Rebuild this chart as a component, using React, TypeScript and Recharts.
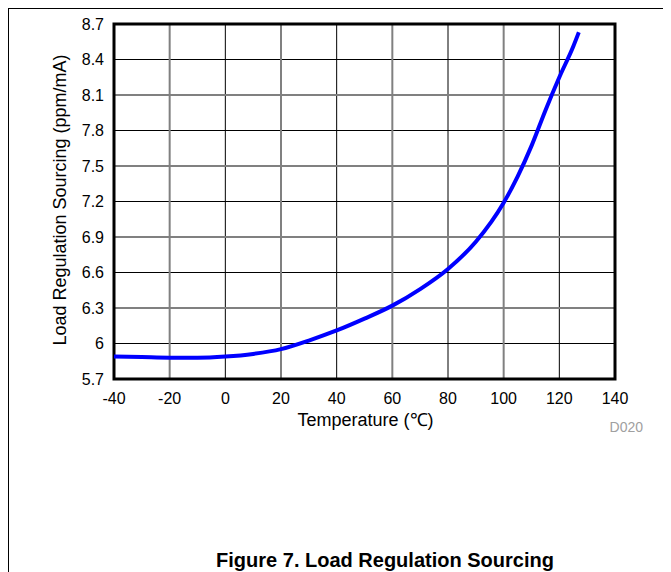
import * as React from "react";
import {
  LineChart,
  Line,
  XAxis,
  YAxis,
  CartesianGrid,
  ReferenceArea,
  Label,
} from "recharts";

const temperature = [-40, -30, -20, -10, 0, 10, 20, 30, 40, 50, 60, 70, 80, 90, 100, 105, 110, 115, 120, 125, 127];
const sourcing = [5.89, 5.885, 5.88, 5.88, 5.89, 5.912, 5.952, 6.025, 6.11, 6.21, 6.32, 6.46, 6.63, 6.86, 7.19, 7.41, 7.67, 7.97, 8.25, 8.51, 8.63];

const xTicks = [-40, -20, 0, 20, 40, 60, 80, 100, 120, 140];
const yTicks = [5.7, 6, 6.3, 6.6, 6.9, 7.2, 7.5, 7.8, 8.1, 8.4, 8.7];

// grid lines alternate dark / grey like the datasheet plot
const xDark = [0, 40, 80, 120];
const xGrey = [-20, 20, 60, 100];
const yDark = [6, 6.6, 7.2, 7.8, 8.4];
const yGrey = [6.3, 6.9, 7.5, 8.1];

const data = temperature.map((t, i) => ({ t, v: sourcing[i] }));

const FONT = '"Liberation Sans", Arial, Helvetica, sans-serif';

export default function App() {
  return (
    <div style={{ position: "relative", width: 663, height: 564, fontFamily: FONT }}>
      <div
        style={{
          position: "absolute",
          left: 0,
          top: 0,
          width: 663,
          height: 564,
          boxSizing: "border-box",
          borderTop: "1.5px solid #000",
          borderLeft: "1.5px solid #000",
        }}
      />
      <LineChart
        width={663}
        height={440}
        data={data}
        margin={{ top: 16, right: 56, left: 0, bottom: 0 }}
        style={{ position: "absolute", left: 0, top: 0 }}
      >
        <CartesianGrid stroke="#000" strokeWidth={1} verticalValues={xDark} horizontalValues={yDark} />
        <CartesianGrid stroke="#808080" strokeWidth={2} verticalValues={xGrey} horizontalValues={yGrey} />
        <XAxis
          dataKey="t"
          type="number"
          domain={[-40, 140]}
          ticks={xTicks}
          axisLine={false}
          tickLine={false}
          tickSize={0}
          tickMargin={14}
          height={69}
          interval={0}
          tick={{ fill: "#000", fontSize: 16, fontFamily: FONT }}
        >
          <Label
            content={(props: any) => {
              const vb = props.viewBox;
              return (
                <text
                  x={vb.x + vb.width / 2 + 1}
                  y={418}
                  textAnchor="middle"
                  fontSize={18}
                  fontFamily={FONT}
                  fill="#000"
                >
                  Temperature (℃)
                </text>
              );
            }}
          />
        </XAxis>
        <YAxis
          type="number"
          domain={[5.7, 8.7]}
          ticks={yTicks}
          axisLine={false}
          tickLine={false}
          tickSize={0}
          tickMargin={10}
          width={106}
          interval={0}
          tick={{ fill: "#000", fontSize: 16, fontFamily: FONT }}
        >
          <Label
            content={() => (
              <text
                x={58}
                y={192}
                transform="rotate(-90, 58, 192)"
                textAnchor="middle"
                fontSize={18}
                fontFamily={FONT}
                fill="#000"
              >
                Load Regulation Sourcing (ppm/mA)
              </text>
            )}
          />
        </YAxis>
        <Line
          type="monotone"
          dataKey="v"
          stroke="#0000ff"
          strokeWidth={4}
          dot={false}
          activeDot={false}
          isAnimationActive={false}
        />
        <ReferenceArea x1={-40} x2={140} y1={5.7} y2={8.7} fill="none" fillOpacity={0} stroke="#000" strokeWidth={3} />
      </LineChart>
      <div
        style={{
          position: "absolute",
          left: 535,
          top: 411,
          width: 100,
          textAlign: "right",
          fontSize: 14,
          lineHeight: "16px",
          color: "#a0a0a0",
        }}
      >
        D020
      </div>
      <div
        style={{
          position: "absolute",
          left: 177,
          top: 542,
          width: 400,
          textAlign: "center",
          fontSize: 20,
          lineHeight: "20px",
          fontWeight: "bold",
          color: "#000",
        }}
      >
        Figure 7. Load Regulation Sourcing
      </div>
    </div>
  );
}
